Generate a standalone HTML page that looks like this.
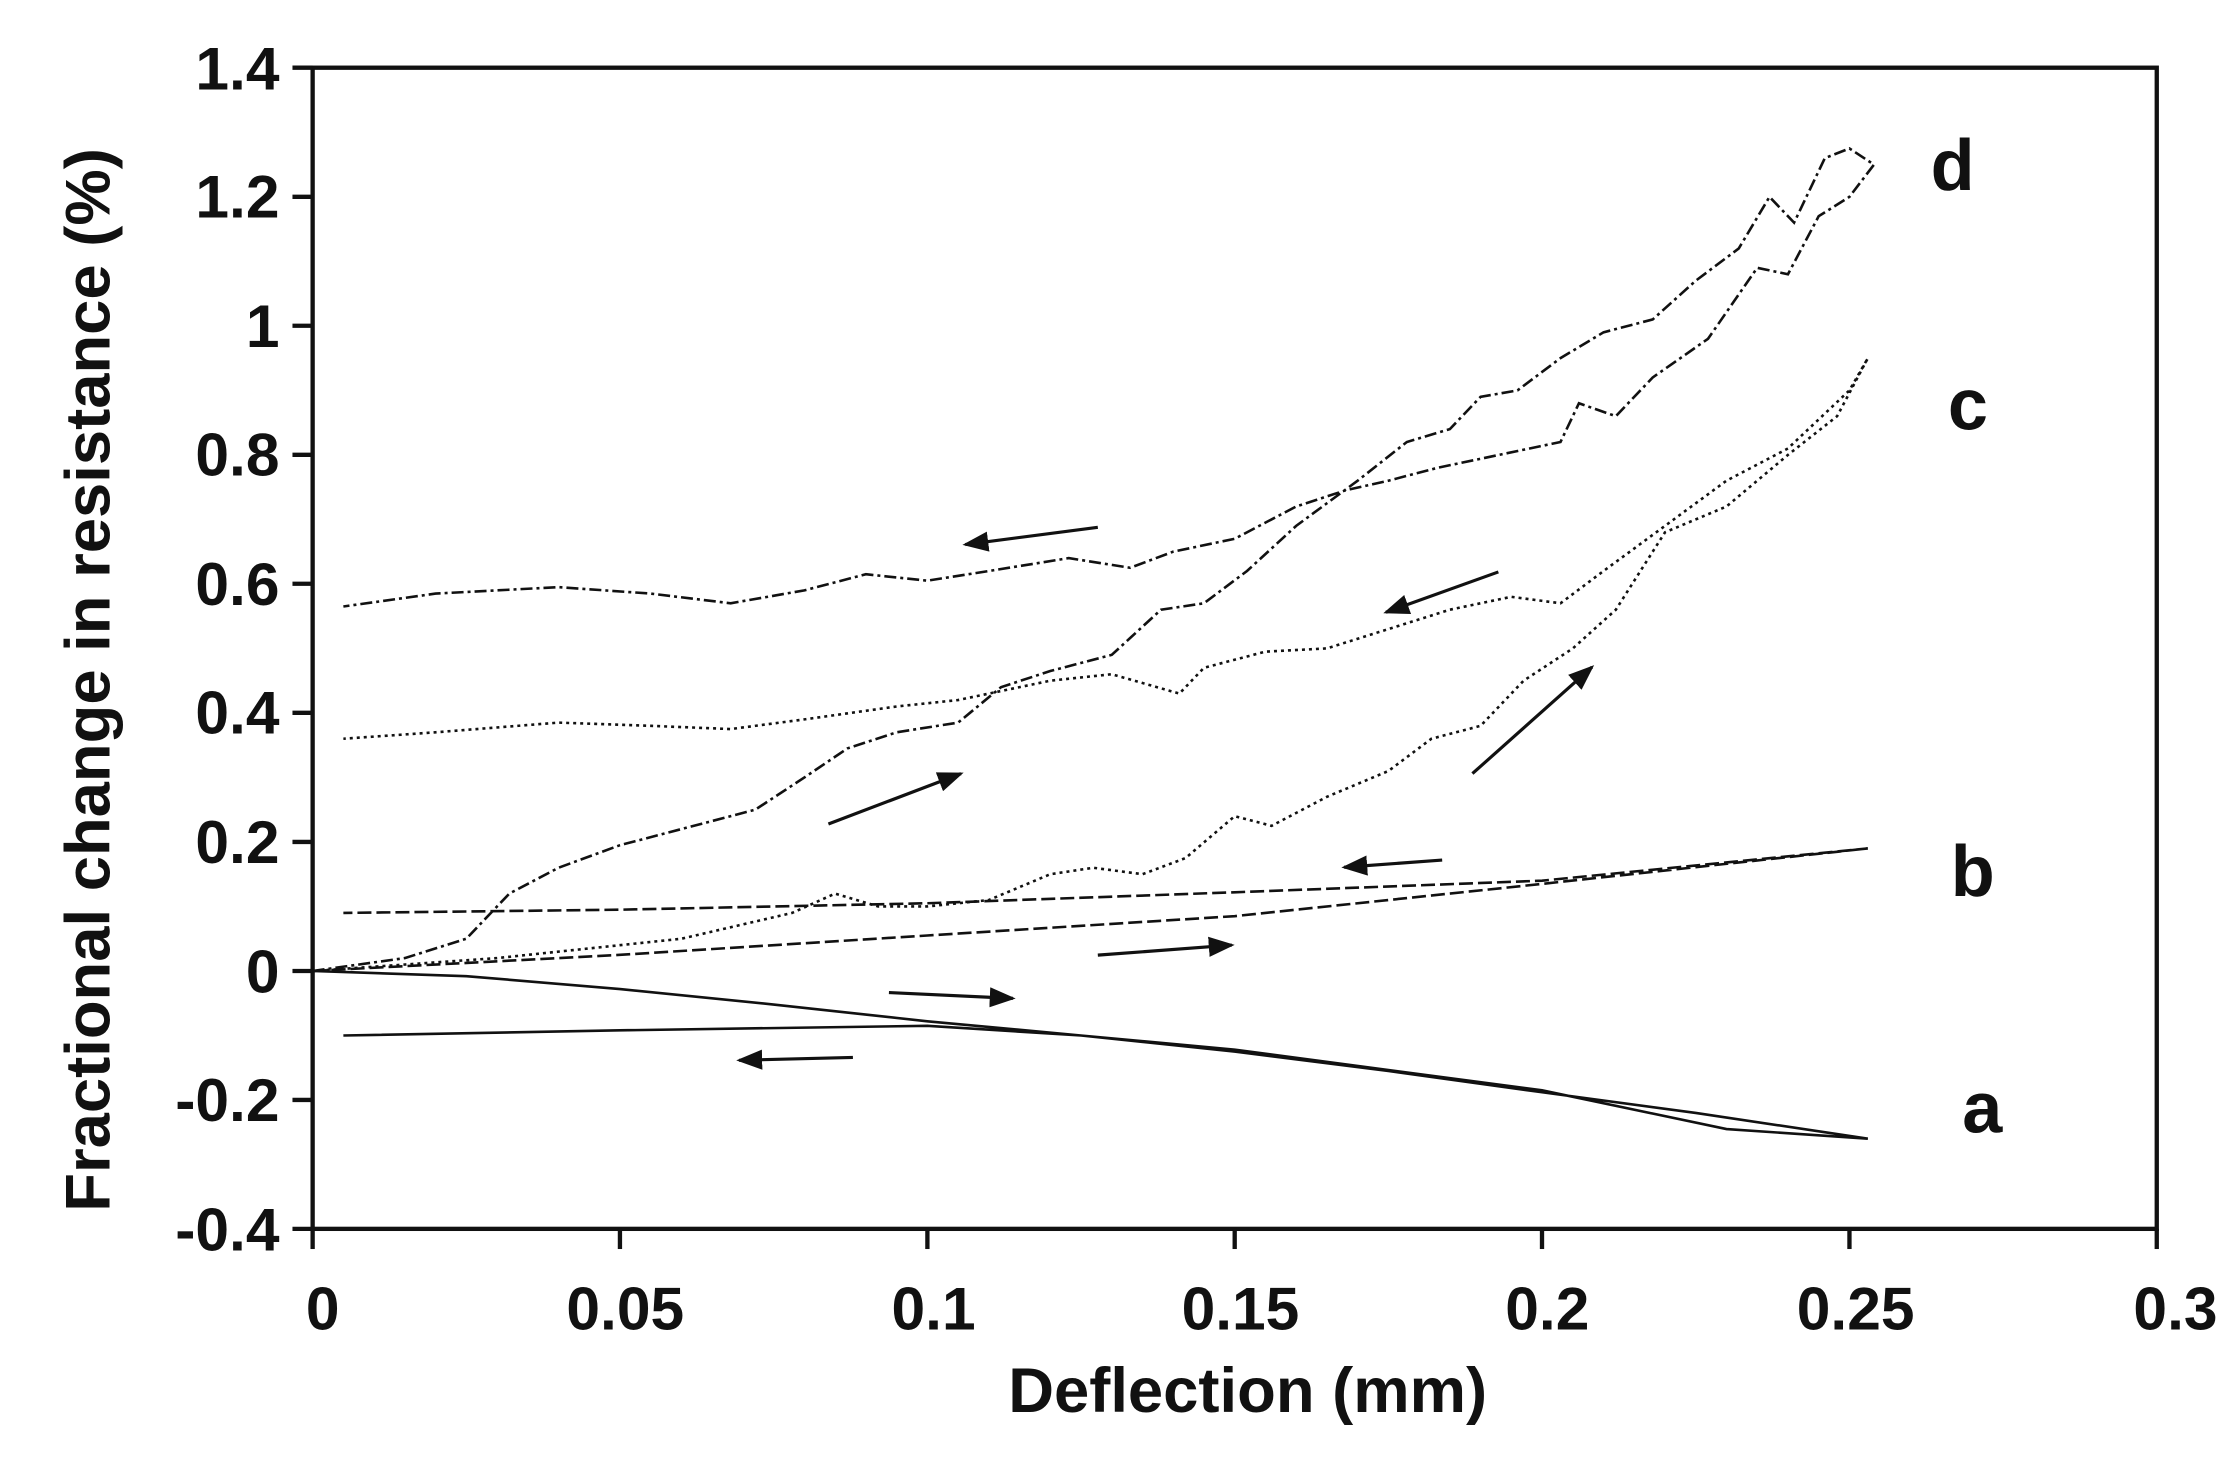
<!DOCTYPE html>
<html><head><meta charset="utf-8"><style>
html,body{margin:0;padding:0;background:#fff;}
svg{display:block;}
text{font-family:"Liberation Sans Narrow","Liberation Sans",Arial,sans-serif;font-weight:bold;fill:#111;}
</style></head><body>
<svg width="2236" height="1468" viewBox="0 0 1552 1019" preserveAspectRatio="none" xmlns="http://www.w3.org/2000/svg">
<rect width="1552" height="1019" fill="#fff"/>
<rect x="217" y="47" width="1280" height="806" fill="none" stroke="#111" stroke-width="3"/>
<g stroke="#111" stroke-width="3">
<line x1="203" y1="47" x2="217" y2="47"/><line x1="203" y1="136.6" x2="217" y2="136.6"/>
<line x1="203" y1="226.1" x2="217" y2="226.1"/><line x1="203" y1="315.7" x2="217" y2="315.7"/>
<line x1="203" y1="405.2" x2="217" y2="405.2"/><line x1="203" y1="494.8" x2="217" y2="494.8"/>
<line x1="203" y1="584.4" x2="217" y2="584.4"/><line x1="203" y1="674" x2="217" y2="674"/>
<line x1="203" y1="763.5" x2="217" y2="763.5"/><line x1="203" y1="853" x2="217" y2="853"/>
<line x1="217" y1="853" x2="217" y2="867"/><line x1="430.3" y1="853" x2="430.3" y2="867"/>
<line x1="643.7" y1="853" x2="643.7" y2="867"/><line x1="857" y1="853" x2="857" y2="867"/>
<line x1="1070.3" y1="853" x2="1070.3" y2="867"/><line x1="1283.7" y1="853" x2="1283.7" y2="867"/>
<line x1="1497" y1="853" x2="1497" y2="867"/>
</g>
<g font-size="42" text-anchor="end">
<text x="194" y="62">1.4</text><text x="194" y="151">1.2</text><text x="194" y="241">1</text>
<text x="194" y="330">0.8</text><text x="194" y="420">0.6</text><text x="194" y="509">0.4</text>
<text x="194" y="599">0.2</text><text x="194" y="689">0</text><text x="194" y="778">-0.2</text>
<text x="194" y="868">-0.4</text>
</g>
<g font-size="42" text-anchor="middle">
<text x="224" y="923">0</text><text x="434" y="923">0.05</text><text x="648" y="923">0.1</text>
<text x="861" y="923">0.15</text><text x="1074" y="923">0.2</text><text x="1288" y="923">0.25</text>
<text x="1510" y="923">0.3</text>
</g>
<text x="866" y="980" font-size="44" text-anchor="middle">Deflection (mm)</text>
<text transform="translate(76,472) rotate(-90)" font-size="44" text-anchor="middle">Fractional change in resistance (%)</text>
<g font-size="50">
<text x="1340" y="132">d</text><text x="1352" y="298">c</text>
<text x="1354" y="622">b</text><text x="1362" y="786">a</text>
</g>
<g transform="translate(217,674) scale(4.2667,-0.4478)" fill="none" stroke="#111" stroke-width="2.6">
<polyline vector-effect="non-scaling-stroke" points="0,0 25,-8 50,-28 75,-52 100,-78 125,-100 150,-125 175,-155 200,-188 225,-220 253,-260 230,-245 200,-185 150,-122 125,-100 100,-85 50,-92 5,-100"/>
<polyline vector-effect="non-scaling-stroke" stroke-dasharray="14,5" points="0,0 50,25 100,55 150,85 200,135 253,190 200,140 150,122 100,105 50,95 5,90"/>
<polyline vector-effect="non-scaling-stroke" stroke-dasharray="3,4" points="0,0 30,20 60,50 78,90 85,120 92,100 100,100 110,110 120,150 127,160 135,150 142,175 150,240 156,225 165,270 175,310 182,360 190,380 197,450 205,500 212,560 220,680 230,720 240,800 248,860 253,950 250,900 240,810 230,760 220,690 210,620 203,570 195,580 185,560 175,530 165,500 155,495 145,470 141,430 130,460 120,450 105,420 95,410 80,390 68,375 55,380 40,385 20,370 5,360"/>
<polyline vector-effect="non-scaling-stroke" stroke-dasharray="12,4,3,4" points="0,0 15,20 25,50 32,120 40,160 50,195 60,220 72,250 80,300 87,345 95,370 105,385 112,440 120,465 130,490 138,560 145,570 152,620 160,690 170,760 178,820 185,840 190,890 196,900 203,950 210,990 218,1010 225,1070 232,1120 237,1200 241,1160 246,1260 250,1275 254,1250 250,1200 245,1170 240,1080 235,1090 227,980 218,920 212,860 206,880 203,820 193,800 183,780 175,760 168,745 160,720 150,670 140,650 133,625 123,640 110,620 100,605 90,615 80,590 68,570 55,585 40,595 20,585 5,565"/>
</g>
<defs>
<marker id="ah2" markerWidth="18" markerHeight="14" refX="16" refY="7" orient="auto" markerUnits="userSpaceOnUse" viewBox="0 0 18 14"><path d="M0,0 L18,7 L0,14 z" fill="#111"/></marker></defs>
<g stroke="#111" stroke-width="2.2" marker-end="url(#ah2)">
<line x1="762" y1="366" x2="670" y2="378"/>
<line x1="1040" y1="397" x2="962" y2="425"/>
<line x1="575" y1="572" x2="667" y2="537"/>
<line x1="1022" y1="537" x2="1105" y2="463"/>
<line x1="1001" y1="597" x2="933" y2="602"/>
<line x1="762" y1="663" x2="855" y2="656"/>
<line x1="617" y1="689" x2="703" y2="693"/>
<line x1="592" y1="734" x2="513" y2="736"/>
</g>
</svg>
</body></html>
